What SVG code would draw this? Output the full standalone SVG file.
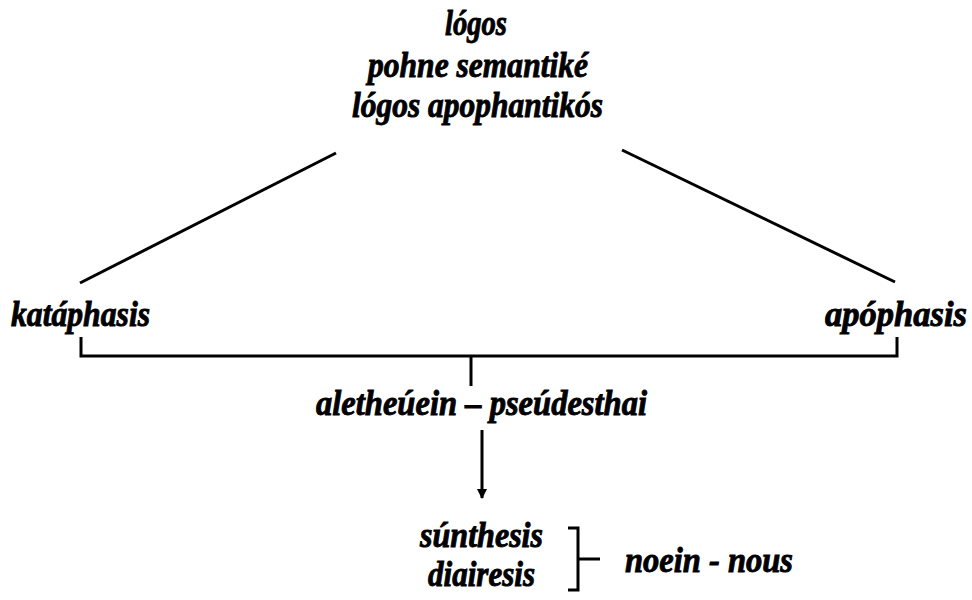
<svg xmlns="http://www.w3.org/2000/svg" width="972" height="600" viewBox="0 0 972 600">
<style>
text{font-family:"Liberation Serif","Times New Roman",serif;font-weight:bold;font-style:italic;font-size:36px;fill:#000;stroke:#000;stroke-width:0.9}
line,path{stroke:#000;stroke-width:3;fill:none}
</style>
<defs>
<marker id="ah" viewBox="0 0 10 10" refX="9" refY="5" markerWidth="3.4" markerHeight="3.4" orient="auto">
<path d="M0,0 L10,5 L0,10 z" style="fill:#000;stroke:none"/>
</marker>
</defs>
<rect width="972" height="600" fill="#fff"/>
<g id="top">
<text x="445" y="35" textLength="62" lengthAdjust="spacingAndGlyphs">lógos</text>
<text x="368" y="77" textLength="220" lengthAdjust="spacingAndGlyphs">pohne semantiké</text>
<text x="352" y="117" textLength="251" lengthAdjust="spacingAndGlyphs">lógos apophantikós</text>
</g>
<g id="kataphasis"><text x="11" y="326" textLength="139" lengthAdjust="spacingAndGlyphs">katáphasis</text></g>
<g id="apophasis"><text x="825" y="326" textLength="142" lengthAdjust="spacingAndGlyphs">apóphasis</text></g>
<g id="aletheuein"><text x="316" y="415" textLength="331" lengthAdjust="spacingAndGlyphs">aletheúein – pseúdesthai</text></g>
<g id="sunthesis"><text x="420" y="547" textLength="123" lengthAdjust="spacingAndGlyphs">súnthesis</text></g>
<g id="diairesis"><text x="428" y="586" textLength="107" lengthAdjust="spacingAndGlyphs">diairesis</text></g>
<g id="noein"><text x="625" y="572" textLength="168" lengthAdjust="spacingAndGlyphs">noein - nous</text></g>
<g id="connectors">
<line x1="336" y1="153" x2="80" y2="283"/>
<line x1="622" y1="150" x2="895" y2="282"/>
<path d="M81,337 V356 H897 V337"/>
<line x1="471" y1="356" x2="471" y2="386"/>
<line x1="482" y1="430" x2="482" y2="498" marker-end="url(#ah)"/>
<path d="M568,528 H578 V590 H568 M578,559 H600"/>
</g>
</svg>
